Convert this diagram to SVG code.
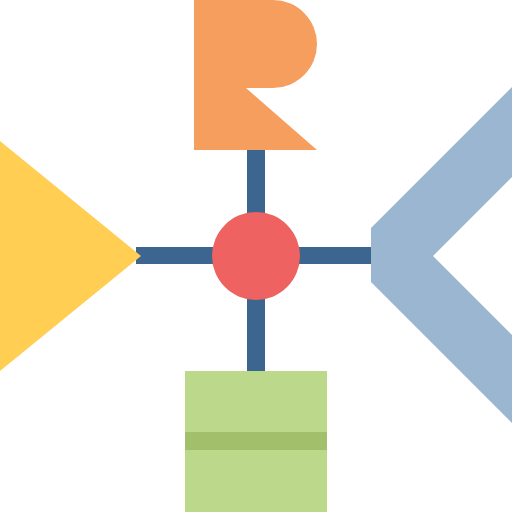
<svg xmlns="http://www.w3.org/2000/svg" width="512" height="512" viewBox="0 0 512 512">
<style>
.conn{fill:#3C6690}
</style>
<rect width="512" height="512" fill="#FFFFFF"/>
<g id="connectors">
<rect class="conn" x="247" y="148" width="18" height="226"/>
<rect class="conn" x="136" y="247" width="238" height="17"/>
</g>
<g id="node-r">
<path d="M194,0 H273 A44,44 0 0 1 273,88 H246 L317,150 H194 Z" fill="#F59E5D"/>
</g>
<g id="node-triangle">
<polygon points="0,141 141,256 0,371" fill="#FFCE52"/>
</g>
<g id="node-chevron">
<polygon points="512,87 512,177 433,256 512,335 512,423 371,282 371,228" fill="#9AB6D0"/>
</g>
<g id="node-box">
<rect x="185" y="371" width="142" height="141" fill="#BCD88A"/>
<rect x="185" y="432" width="142" height="18" fill="#A2C06C"/>
</g>
<g id="node-center">
<circle cx="256" cy="256" r="44" fill="#EF6262"/>
</g>
</svg>
